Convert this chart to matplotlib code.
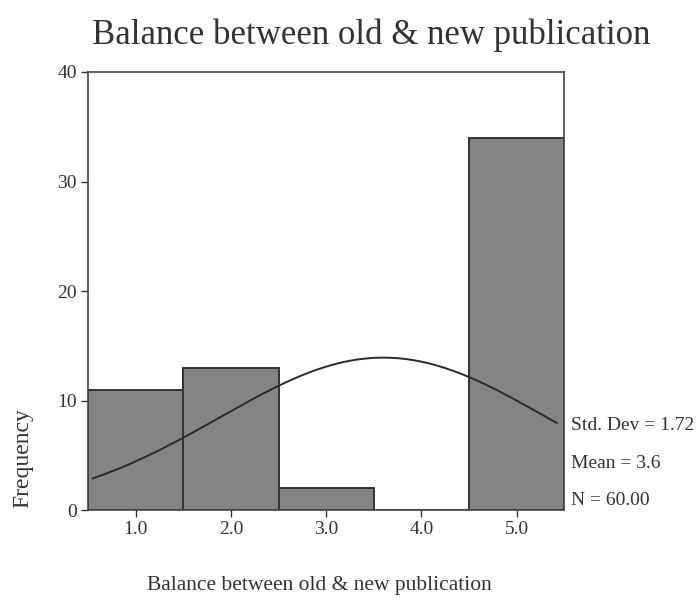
import numpy as np
import matplotlib
matplotlib.use("Agg")
import matplotlib.pyplot as plt

categories = [1.0, 2.0, 3.0, 4.0, 5.0]
counts = [11, 13, 2, 0, 34]
tick_labels = ["1.0", "2.0", "3.0", "4.0", "5.0"]
mean = 3.6
std = 1.72
n = 60
curve_range = [0.55, 5.42]

plt.rcParams['font.family'] = ['Liberation Serif', 'DejaVu Serif']

fig = plt.figure(figsize=(7, 6.03), dpi=100)
ax = fig.add_axes([0.1257, 0.1542, 0.8063 - 0.1257, 0.8806 - 0.1542])

ax.bar(categories, counts, width=1.0, color='#848484', edgecolor='#333333', linewidth=1.4)

xs = np.linspace(curve_range[0], curve_range[1], 300)
ys = n * 1.0 * np.exp(-0.5 * ((xs - mean) / std) ** 2) / (std * np.sqrt(2 * np.pi))
ax.plot(xs, ys, color='#2a2a2a', linewidth=1.4)

ax.set_xlim(0.5, 5.5)
ax.set_ylim(0, 40)
ax.set_xticks(categories)
ax.set_xticklabels(tick_labels)
ax.set_yticks([0, 10, 20, 30, 40])
ax.tick_params(axis='both', direction='out', length=5, width=1, labelsize=14, colors='#333333', pad=3)
for s in ax.spines.values():
    s.set_color('#444444')
    s.set_linewidth(1.2)

fig.text(0.53, 0.942, "Balance between old & new publication", ha='center', va='center', fontsize=25, color='#333333')
fig.text(0.456, 0.014, "Balance between old & new publication", ha='center', va='bottom', fontsize=15.5, color='#333333')
fig.text(0.032, 0.24, "Frequency", rotation=90, ha='center', va='center', fontsize=17, color='#333333')

stats = ["Std. Dev = 1.72", "Mean = 3.6", "N = 60.00"]
ypos = [0.294, 0.231, 0.170]
for t, y in zip(stats, ypos):
    fig.text(0.816, y, t, ha='left', va='center', fontsize=14, color='#333333')

fig.savefig("out.png", dpi=100)
